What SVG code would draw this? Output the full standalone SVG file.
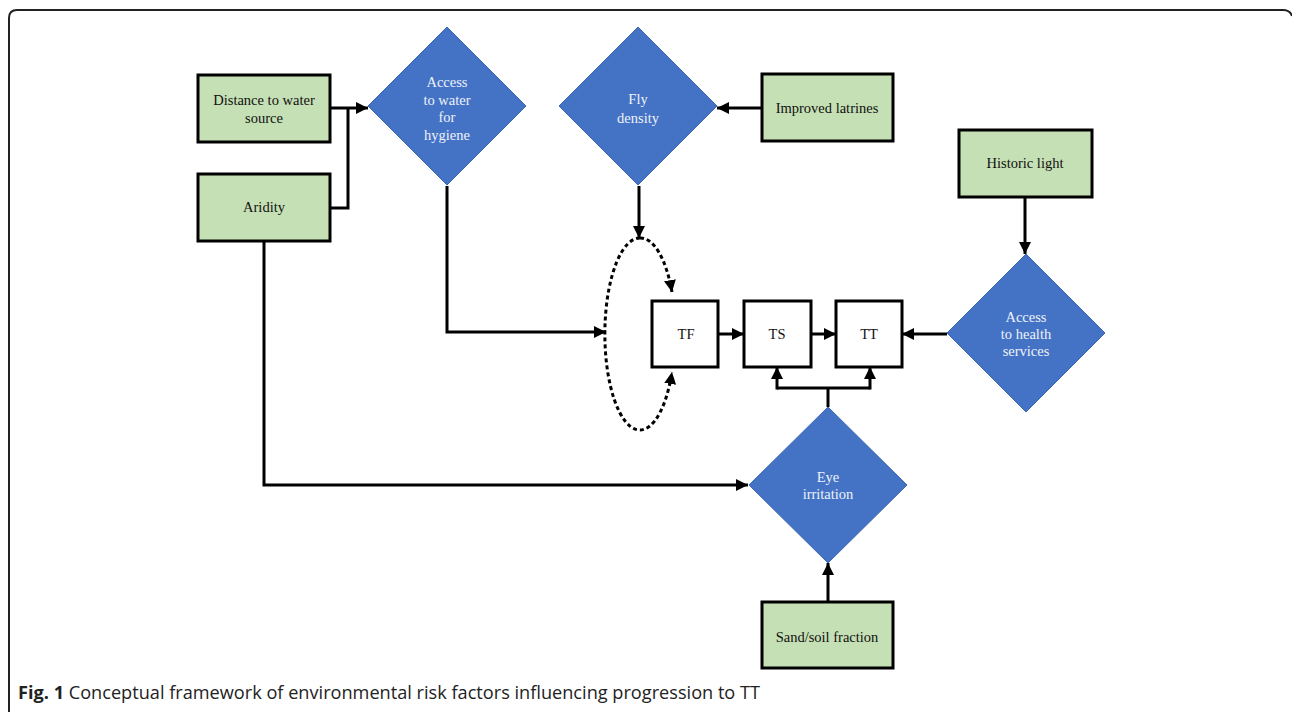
<svg xmlns="http://www.w3.org/2000/svg" width="1292" height="712" viewBox="0 0 1292 712">
<style>
.box{fill:#C5E0B4;stroke:#000;stroke-width:3}
.dia{fill:#4472C4;stroke:#3B66B3;stroke-width:1}
.bt{font-family:"Liberation Serif","Times New Roman",serif;font-size:14.5px;fill:#111;text-anchor:middle}
.dt{font-family:"Liberation Serif","Times New Roman",serif;font-size:14.5px;fill:#EEF2FA;text-anchor:middle}
.ln{fill:none;stroke:#000;stroke-width:3}
.dash{fill:none;stroke:#000;stroke-width:3;stroke-dasharray:4 3}
.wb{fill:#fff;stroke:#000;stroke-width:3}
</style>
<defs>
<marker id="ah" markerUnits="userSpaceOnUse" markerWidth="12" markerHeight="12" viewBox="0 0 12 12" refX="12" refY="6" orient="auto">
<path d="M0,0 L12,6 L0,12 z" fill="#000"/>
</marker>
</defs>
<rect width="1292" height="712" fill="#fff"/>
<path d="M9,712 L9,18 Q9,10 17,10 L1283,10 Q1290,10 1292,16" fill="none" stroke="#222" stroke-width="2"/>

<g id="connectors">
<path class="ln" d="M330,108 L368,108" marker-end="url(#ah)"/>
<path class="ln" d="M330,208 L348,208 L348,108"/>
<path class="ln" d="M762,108 L717,108" marker-end="url(#ah)"/>
<path class="ln" d="M639,186 L639,238" marker-end="url(#ah)"/>
<path class="dash" d="M640,238 A35,96 0 0 1 672,292" marker-end="url(#ah)"/>
<path class="dash" d="M640,238 A35,96 0 1 0 672,372" marker-end="url(#ah)"/>
<path class="ln" d="M447,186 L447,332 L606,332" marker-end="url(#ah)"/>
<path class="ln" d="M718,334 L744,334" marker-end="url(#ah)"/>
<path class="ln" d="M811,334 L836,334" marker-end="url(#ah)"/>
<path class="ln" d="M947,334 L902,334" marker-end="url(#ah)"/>
<path class="ln" d="M1025,197 L1025,254" marker-end="url(#ah)"/>
<path class="ln" d="M264,241 L264,485 L748,485" marker-end="url(#ah)"/>
<path class="ln" d="M828,407 L828,388"/>
<path class="ln" d="M777,388 L870,388"/>
<path class="ln" d="M777,389.5 L777,367" marker-end="url(#ah)"/>
<path class="ln" d="M870,389.5 L870,367" marker-end="url(#ah)"/>
<path class="ln" d="M828,602 L828,563" marker-end="url(#ah)"/>
</g>

<g id="distance">
<rect class="box" x="198" y="75" width="132" height="67"/>
<text class="bt" x="264" y="105">Distance to water</text>
<text class="bt" x="264" y="123">source</text>
</g>
<g id="aridity">
<rect class="box" x="198" y="174" width="132" height="67"/>
<text class="bt" x="264" y="212">Aridity</text>
</g>
<g id="access-water">
<polygon class="dia" points="447,27 526,106 447,185 368,106"/>
<text class="dt" x="447" y="87">Access</text>
<text class="dt" x="447" y="105">to water</text>
<text class="dt" x="447" y="122">for</text>
<text class="dt" x="447" y="140">hygiene</text>
</g>
<g id="fly-density">
<polygon class="dia" points="638,27 717,106 638,185 559,106"/>
<text class="dt" x="638" y="104">Fly</text>
<text class="dt" x="638" y="123">density</text>
</g>
<g id="latrines">
<rect class="box" x="762" y="74" width="131" height="67"/>
<text class="bt" x="827" y="113">Improved latrines</text>
</g>
<g id="historic-light">
<rect class="box" x="959" y="130" width="133" height="67"/>
<text class="bt" x="1025" y="168">Historic light</text>
</g>
<g id="access-health">
<polygon class="dia" points="1026,254 1105,333 1026,412 947,333"/>
<text class="dt" x="1026" y="322">Access</text>
<text class="dt" x="1026" y="339">to health</text>
<text class="dt" x="1026" y="356">services</text>
</g>
<g id="tf">
<rect class="wb" x="652" y="301" width="66" height="66"/>
<text class="bt" x="686" y="339">TF</text>
</g>
<g id="ts">
<rect class="wb" x="744" y="301" width="67" height="66"/>
<text class="bt" x="777" y="339">TS</text>
</g>
<g id="tt">
<rect class="wb" x="836" y="301" width="66" height="66"/>
<text class="bt" x="869" y="339">TT</text>
</g>
<g id="eye-irritation">
<polygon class="dia" points="828,407 907,485 828,563 749,485"/>
<text class="dt" x="828" y="482">Eye</text>
<text class="dt" x="828" y="499">irritation</text>
</g>
<g id="sand-soil">
<rect class="box" x="762" y="602" width="131" height="66"/>
<text class="bt" x="827" y="642">Sand/soil fraction</text>
</g>

<text x="18" y="699" font-family="'Open Sans','Liberation Sans',Arial,sans-serif" font-size="17.5" fill="#222" textLength="742" lengthAdjust="spacingAndGlyphs"><tspan font-weight="bold">Fig. 1</tspan> Conceptual framework of environmental risk factors influencing progression to TT</text>
</svg>
